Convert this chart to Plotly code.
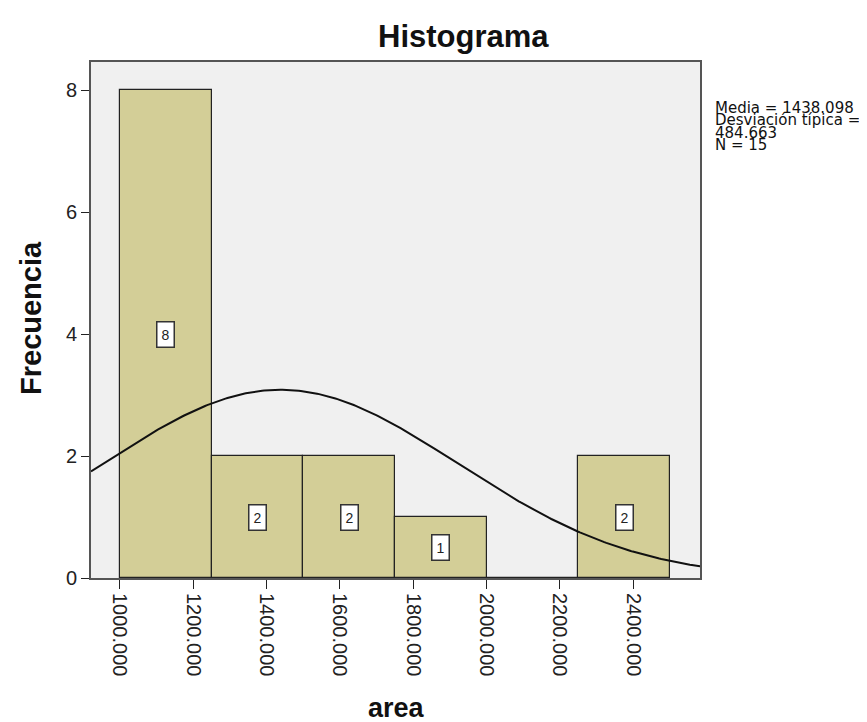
import numpy as np
import plotly.graph_objects as go

# Data
bin_starts = [1000, 1250, 1500, 1750, 2000, 2250]
counts = [8, 2, 2, 1, 0, 2]
bin_width = 250
mean_val = 1438.098
sd_val = 484.663
n_val = 15
x_ticks = [1000, 1200, 1400, 1600, 1800, 2000, 2200, 2400]
y_ticks = [0, 2, 4, 6, 8]

FONT = "Arial, Liberation Sans, sans-serif"
BAR_COLOR = "#D3CE97"

x_range = [921, 2582]
y_range = [0, 8.46]

centers = [s + bin_width / 2 for s in bin_starts]

fig = go.Figure()
fig.add_trace(go.Bar(
    x=centers, y=counts, width=[bin_width] * len(counts),
    marker=dict(color=BAR_COLOR, line=dict(color="#222222", width=1.2)),
    hoverinfo="skip", showlegend=False,
))

# Fitted normal curve from the stated mean / sd / N
xs = np.linspace(x_range[0], x_range[1], 300)
ys = n_val * bin_width / (sd_val * np.sqrt(2 * np.pi)) * np.exp(-0.5 * ((xs - mean_val) / sd_val) ** 2)
fig.add_trace(go.Scatter(x=xs, y=ys, mode="lines",
                         line=dict(color="#111111", width=2),
                         hoverinfo="skip", showlegend=False))

annotations = []
for c, v in zip(centers, counts):
    if v > 0:
        annotations.append(dict(
            x=c, y=v / 2, xref="x", yref="y", text=str(v), showarrow=False,
            font=dict(family=FONT, size=14, color="#222222"),
            bgcolor="white", bordercolor="#333333", borderwidth=1.5, borderpad=4,
        ))

TOP, BOTTOM, LEFT, RIGHT = 54, 570, 83, 692
H = float(BOTTOM - TOP)
W = float(RIGHT - LEFT)

def yp(pix):
    return (BOTTOM - pix) / H

def xp(pix):
    return (pix - LEFT) / W

annotations.append(dict(x=xp(455), y=yp(29), xref="paper", yref="paper",
                        text="<b>Histograma</b>", showarrow=False,
                        font=dict(family=FONT, size=31, color="#111111"),
                        xanchor="center", yanchor="middle"))
annotations.append(dict(x=xp(23), y=yp(310), xref="paper", yref="paper",
                        text="<b>Frecuencia</b>", showarrow=False, textangle=-90,
                        font=dict(family=FONT, size=29, color="#111111"),
                        xanchor="center", yanchor="middle"))
annotations.append(dict(x=xp(388), y=yp(700), xref="paper", yref="paper",
                        text="<b>area</b>", showarrow=False,
                        font=dict(family=FONT, size=27, color="#111111"),
                        xanchor="center", yanchor="middle"))

legend_lines = ["Media = 1438.098", "Desviación típica =", "484.663", "N = 15"]
legend_y = [100, 112.5, 125, 137.5]
for t, yy in zip(legend_lines, legend_y):
    annotations.append(dict(x=xp(705), y=yp(yy), xref="paper", yref="paper",
                            text=t, showarrow=False,
                            font=dict(family="DejaVu Sans, sans-serif", size=15,
                                      color="#111111"),
                            xanchor="left", yanchor="middle"))

fig.update_layout(
    width=867, height=722,
    margin=dict(l=LEFT, r=867 - RIGHT, t=TOP, b=722 - BOTTOM),
    paper_bgcolor="white", plot_bgcolor="#F0F0F0",
    bargap=0, showlegend=False,
    annotations=annotations,
    xaxis=dict(range=x_range, tickvals=x_ticks,
               ticktext=[f"{v:.3f}" for v in x_ticks],
               tickangle=90, ticks="outside", ticklen=9, tickcolor="#222222",
               tickfont=dict(family=FONT, size=20, color="#222222"),
               showgrid=False, zeroline=False,
               showline=True, mirror=True, linecolor="#555555", linewidth=2),
    yaxis=dict(range=y_range, tickvals=y_ticks, ticks="outside", ticklen=8,
               tickcolor="#222222",
               tickfont=dict(family=FONT, size=20, color="#222222"),
               showgrid=False, zeroline=False,
               showline=True, mirror=True, linecolor="#555555", linewidth=2),
)

fig.write_html("out.html")
